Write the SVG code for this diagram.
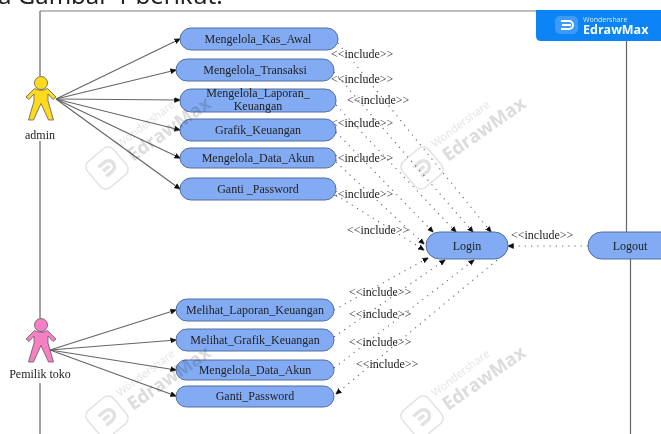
<svg xmlns="http://www.w3.org/2000/svg" width="661" height="434" viewBox="0 0 661 434">
<style>
.frame{stroke:#666;stroke-width:1.2;fill:none}
.top{stroke:#a8a8a8;stroke-width:1.4;fill:none}
.uc{fill:#82abf3;stroke:#4f6f9f;stroke-width:1}
.t{font-family:"Liberation Serif",serif;font-size:12px;fill:#222;text-anchor:middle}
.inc{font-family:"Liberation Serif",serif;font-size:12px;fill:#222}
.assoc{stroke:#666;stroke-width:1.2;fill:none;marker-end:url(#ah)}
.dot{stroke:#666;stroke-width:1.1;stroke-dasharray:1.2 5;fill:none;marker-end:url(#ah)}
.actor{stroke:#5a5a5a;stroke-width:.8}
.wm1{font-family:"Open Sans",sans-serif;font-size:11px;fill:#e4e4e4}
.wm2{font-family:"Open Sans",sans-serif;font-size:18.5px;font-weight:700;fill:#dcdcdc}
</style>
<defs>
<filter id="soft" x="0" y="0" width="100%" height="100%"><feGaussianBlur stdDeviation="0.4"/></filter>
<marker id="ah" viewBox="0 0 6 6" refX="5.500" refY="3" markerWidth="6" markerHeight="6" markerUnits="userSpaceOnUse" orient="auto"><path d="M0,0.500L6,3L0,5.500z" fill="#111" stroke="#111" stroke-width=".5"/></marker>
<path id="fig" d="M-6.500,88.500L-15,97L-12,99.500L-7,94L-7,101L-12.500,120L-7.500,120L0,103.500L7.500,120L12.500,120L7,101L7,94L12,99.500L15,97L6.500,88.500Q0,92 -6.500,88.500z"/>
<g id="wm">
<g fill="none" stroke="#e2e2e2">
<rect x="-17" y="-17" width="34" height="34" rx="7" transform="rotate(-40)" stroke-width="1.500"/>
<path d="M-6,-6H2A6,6 0 0 1 2,6H-6M-5,0H3" transform="rotate(-40)" stroke-width="3.500"/>
</g>
<text class="wm1" transform="translate(13,-20) rotate(-37)">Wondershare</text>
<text class="wm2" transform="translate(26,-6) rotate(-35)">EdrawMax</text>
</g>
</defs>
<rect width="661" height="434" fill="#fff"/>
<g filter="url(#soft)">
<text x="-2" y="4" font-family="'Noto Sans',sans-serif" font-size="24" fill="#222">a Gambar 1 berikut.</text>
<g id="frame">
<path class="top" d="M40,11H661"/>
<path class="frame" d="M40,11V76M40,141V318M40,382V434M626.500,40V232M630.500,259V434"/>
</g>
<g id="connectors">
<path class="assoc" d="M56,99L180,39"/>
<path class="assoc" d="M56,99L176,70"/>
<path class="assoc" d="M56,99L180,100"/>
<path class="assoc" d="M56,99L180,130"/>
<path class="assoc" d="M56,99L180,158"/>
<path class="assoc" d="M56,99L180,189"/>
<path class="assoc" d="M50,350L176,310"/>
<path class="assoc" d="M50,350L176,340"/>
<path class="assoc" d="M50,350L176,370"/>
<path class="assoc" d="M50,350L176,396"/>
<path class="dot" d="M338,43L491,232"/>
<path class="dot" d="M334,72L473,232"/>
<path class="dot" d="M336,105L456,232"/>
<path class="dot" d="M336,132L433,232"/>
<path class="dot" d="M336,162L424,244"/>
<path class="dot" d="M336,195L424,250"/>
<path class="dot" d="M334,310L428,258"/>
<path class="dot" d="M334,337L445,260"/>
<path class="dot" d="M334,368L474,260"/>
<path class="dot" d="M497,260L336,394"/>
<path class="dot" d="M588,246L508,246"/>
</g>
<g id="include-labels" class="inc">
<text x="331" y="58">&lt;&lt;include&gt;&gt;</text>
<text x="331" y="83">&lt;&lt;include&gt;&gt;</text>
<text x="347" y="104">&lt;&lt;include&gt;&gt;</text>
<text x="331" y="127">&lt;&lt;include&gt;&gt;</text>
<text x="331" y="162">&lt;&lt;include&gt;&gt;</text>
<text x="331" y="198">&lt;&lt;include&gt;&gt;</text>
<text x="347" y="234">&lt;&lt;include&gt;&gt;</text>
<text x="349" y="296">&lt;&lt;include&gt;&gt;</text>
<text x="349" y="318">&lt;&lt;include&gt;&gt;</text>
<text x="349" y="346">&lt;&lt;include&gt;&gt;</text>
<text x="356" y="368">&lt;&lt;include&gt;&gt;</text>
<text x="511" y="239">&lt;&lt;include&gt;&gt;</text>
</g>
<g id="admin"><circle cx="41" cy="83" r="6.500" fill="#ffd91f" class="actor"/><use href="#fig" x="41" fill="#ffd91f" class="actor"/><rect x="25" y="127" width="32" height="14" fill="#fff"/><text class="t" x="40" y="139">admin</text></g>
<g id="pemilik"><circle cx="41" cy="325" r="6.500" fill="#f77fc4" class="actor"/><use href="#fig" x="41" y="242" fill="#f77fc4" class="actor"/><rect x="8" y="369" width="64" height="14" fill="#fff"/><text class="t" x="40" y="378">Pemilik toko</text></g>
<g id="uc1"><rect class="uc" x="180" y="28" width="158" height="22" rx="11"/><text class="t" x="258" y="43">Mengelola_Kas_Awal</text></g>
<g id="uc2"><rect class="uc" x="176" y="59" width="158" height="22" rx="11"/><text class="t" x="255" y="74">Mengelola_Transaksi</text></g>
<g id="uc3"><rect class="uc" x="180" y="89" width="156" height="23" rx="11"/><text class="t" x="258" y="97">Mengelola_Laporan_</text><text class="t" x="258" y="110">Keuangan</text></g>
<g id="uc4"><rect class="uc" x="180" y="119" width="156" height="22" rx="11"/><text class="t" x="258" y="134">Grafik_Keuangan</text></g>
<g id="uc5"><rect class="uc" x="180" y="148" width="156" height="20" rx="10"/><text class="t" x="258" y="162">Mengelola_Data_Akun</text></g>
<g id="uc6"><rect class="uc" x="180" y="178" width="156" height="22" rx="11"/><text class="t" x="258" y="193">Ganti _Password</text></g>
<g id="uc7"><rect class="uc" x="176" y="299" width="158" height="22" rx="11"/><text class="t" x="255" y="314">Melihat_Laporan_Keuangan</text></g>
<g id="uc8"><rect class="uc" x="176" y="329" width="158" height="22" rx="11"/><text class="t" x="255" y="344">Melihat_Grafik_Keuangan</text></g>
<g id="uc9"><rect class="uc" x="176" y="360" width="158" height="20" rx="10"/><text class="t" x="255" y="374">Mengelola_Data_Akun</text></g>
<g id="uc10"><rect class="uc" x="176" y="386" width="158" height="21" rx="10.500"/><text class="t" x="255" y="400">Ganti_Password</text></g>
<g id="login"><rect class="uc" x="426" y="232" width="82" height="27" rx="13.500"/><text class="t" x="467" y="250">Login</text></g>
<g id="logout"><rect class="uc" x="588" y="232" width="90" height="27" rx="13.500"/><text class="t" x="630" y="250">Logout</text></g>
<g id="watermarks" style="mix-blend-mode:multiply">
<use href="#wm" x="107" y="168"/>
<use href="#wm" x="422" y="168"/>
<use href="#wm" x="107" y="417"/>
<use href="#wm" x="422" y="417"/>
</g>
<g id="badge">
<path d="M536,10H661V41H541Q536,41 536,36z" fill="#0a84f5"/>
<rect x="555" y="16" width="23" height="18" rx="5" fill="#3d9bf7"/>
<path d="M561,21H569A4,4 0 0 1 569,29H561M562,25H571" fill="none" stroke="#fff" stroke-width="2"/>
<text x="583" y="22" font-family="'Open Sans',sans-serif" font-size="7" fill="#d5e9ff">Wondershare</text>
<text x="583" y="34" font-family="'Open Sans',sans-serif" font-size="12.500" font-weight="700" fill="#fff">EdrawMax</text>
</g>
</g>
</svg>
